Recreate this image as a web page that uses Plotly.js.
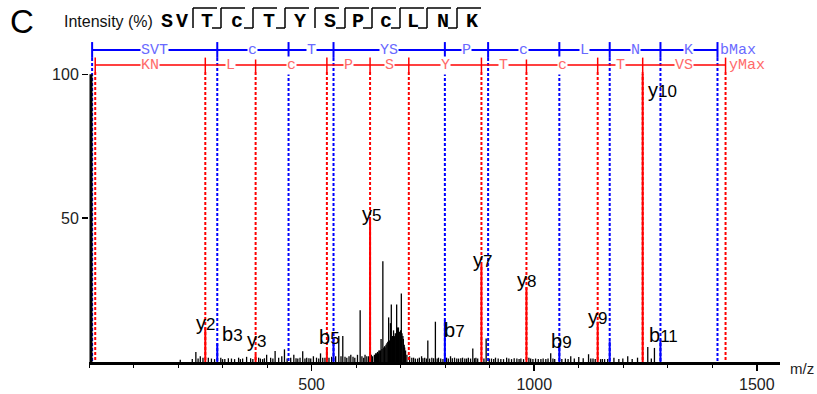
<!DOCTYPE html>
<html><head><meta charset="utf-8">
<script src="https://cdn.plot.ly/plotly-3.0.1.min.js"></script>
<style>html,body{margin:0;padding:0;background:#fff}#chart{width:817px;height:394px}</style>
</head><body><div id="chart"></div>
<script>
// ================= DATA =================
// peptide sequence shown in the header
const sequence = ['S','V','T','c','T','Y','S','P','c','L','N','K'];

// b-ion ladder (m/z): start, then b3,b4,b5,b7,b8,b9,b10,b11,bMax
const bStartMz = 7;
const bLadderMz = [288.1, 448.2, 549.2, 799.3, 896.4, 1056.4, 1169.5, 1283.5, 1411.6];
const bSegLabels = ['SVT','c','T','YS','P','c','L','N','K'];

// y-ion ladder (m/z): start, then y2..y10, yMax
const yStartMz = 14;
const yLadderMz = [261.2, 374.2, 534.3, 631.3, 718.3, 881.4, 982.5, 1142.5, 1243.6, 1429.7];
const ySegLabels = ['KN','L','c','P','S','Y','T','c','T','VS'];

// matched b-ion peaks
const bMatchMz    = [288.1, 549.2, 799.3, 1056.4, 1169.5, 1283.5];
const bMatchInt   = [6.5, 8.5, 14.5, 6.5, 7.2, 7.8];
const bMatchLabel = ['b3', 'b5', 'b7', 'b9', '', 'b11'];

// matched y-ion peaks
const yMatchMz    = [261.2, 374.2, 534.3, 631.3, 881.4, 982.5, 1142.5, 1243.6];
const yMatchInt   = [12, 2.5, 5, 50, 33.7, 26, 14, 100];
const yMatchLabel = ['y2', 'y3', '', 'y5', 'y7', 'y8', 'y9', 'y10'];

// unassigned peaks
const peakMz  = [205, 232, 240, 245, 250, 256, 268, 275, 282, 296, 300, 305, 313, 320, 327, 336, 340, 345, 354, 363, 368, 381, 385, 390, 394, 399, 408, 413, 418, 426, 433, 439, 445, 453, 460, 465, 469, 474, 480, 485, 489, 494, 498, 504, 511, 516, 520, 525, 530, 539, 545, 554, 561, 566, 570, 575, 579, 584, 588, 593, 597, 603, 609, 613, 617, 620, 624, 628, 634, 637, 641, 643, 644, 646, 648, 650, 651, 653, 655, 656, 658, 660, 662, 664, 665, 667, 669, 671, 673, 675, 677, 679, 680, 682, 683, 684, 686, 688, 690, 691, 692, 693, 694, 695, 697, 699, 700, 701.5, 703, 705, 706, 708, 709, 711, 714, 720, 725, 729, 733, 738, 742, 747, 750, 754, 758, 761, 765, 770, 774, 778, 782, 785, 790, 795, 803, 807, 812, 816, 821, 826, 830, 835, 839, 844, 848, 852, 857, 862, 866, 869, 873, 887, 892, 899, 904, 909, 913, 919, 925, 931, 938, 943, 949, 955, 961, 966, 970, 976, 988, 992, 997, 1003, 1009, 1015, 1020, 1026, 1031, 1037, 1042, 1046, 1062, 1070, 1076, 1082, 1090, 1100, 1110, 1122, 1127, 1132, 1137, 1149, 1153, 1158, 1165, 1179, 1190, 1199, 1210, 1220, 1232, 1255, 1263, 1270, 1292, 1301, 1312, 1323];
const peakInt = [0.8, 1, 3.5, 1.2, 2, 1.5, 1.5, 1.2, 1, 1.5, 1, 1, 1.3, 1.2, 1, 1.5, 1, 1.2, 1.8, 1.3, 1, 1.5, 1.2, 1, 1.3, 2.5, 1.5, 1.2, 3.8, 1.5, 2, 4.4, 1.2, 1.5, 2.5, 1.3, 1.2, 1.5, 3.7, 1.2, 1.5, 1.3, 1.2, 2, 1.5, 1.2, 3, 1.5, 1.5, 1.5, 1.8, 2, 9, 2, 9, 1.8, 1.5, 2, 2.5, 1.8, 1.5, 2.5, 18, 2, 1.5, 2.5, 2, 2, 2.5, 2, 2.5, 2.5, 3, 3, 3.5, 3, 4, 4, 4, 8, 4.5, 35, 5, 5.5, 5, 6, 6.5, 7, 15.5, 7.5, 13.5, 20, 8.5, 9, 8, 11, 9, 10, 9.5, 20, 10, 12, 11, 12, 10.5, 10, 11, 23.8, 10, 9, 8, 6, 5, 4, 2.5, 2, 1.5, 1.5, 1.2, 1.2, 1.5, 2, 1.3, 1.5, 1.2, 7.5, 1.2, 1.5, 1.3, 14, 1.2, 1.5, 1.2, 1, 1.5, 1.2, 2, 1.3, 1.5, 1.2, 1.2, 1.3, 1.5, 1.2, 1.2, 1.5, 1.2, 4.7, 1.3, 1.5, 1.2, 1.2, 8.2, 1.2, 1.2, 1, 1.5, 1.2, 1, 1, 1.5, 1.2, 1, 1.3, 1.2, 1, 1.2, 1, 1.5, 1.2, 1, 1.2, 1, 1, 1.2, 1, 1.2, 3, 1.2, 1, 1, 1.2, 1, 2, 1.2, 1.7, 1.3, 2.7, 1.2, 1.2, 1, 1, 1, 1, 1, 1.5, 1, 1.2, 2, 1, 1.5, 5.2, 1.2, 4.9];

const xTickVals = [500, 1000, 1500];
const yTickVals = [50, 100];

// ================= STYLE / LAYOUT CONSTANTS =================
const W = 817, H = 394;
const M = {l: 89, r: 37, t: 37, b: 32};
const PW = W - M.l - M.r, PH = H - M.t - M.b;
const X_MAX = 1552, Y_MAX = 112.96;
const BLUE = '#0000ff', RED = '#ff0000';
const BLUE_TXT = '#6a6aff', RED_TXT = '#ff6a6a';
const bLineY = 108.4, bTickTop = 111.2, bTickBot = 105.7;
const yLineY = 103.2, yTickTop = 105.8, yTickBot = 100.8;
const DASH = '3px,2px';
// label offsets (px) for peak labels: [dx, up]
const bLabelOff = [[15.5, 9], [-4, 1], [10, -10], [2, 2], [0, 0], [3, 5]];
const yLabelOff = [[0, 4], [1, 15], [0, 0], [1, 4], [1, 5], [0, 7], [0, 5], [20, -16]];

const px2paperX = p => (p - M.l) / PW;
const px2paperY = p => (H - M.b - p) / PH;

// ================= TRACES =================
function sticks(xs, y0s, y1s) {
  const x = [], y = [];
  xs.forEach((v, i) => { x.push(v, v, null); y.push(y0s[i], y1s[i], null); });
  return {x, y};
}
const traces = [];
{
  const s = sticks(peakMz, peakMz.map(() => 0), peakInt);
  traces.push({type: 'scatter', mode: 'lines', x: s.x, y: s.y, line: {color: '#000', width: 1.3}, hoverinfo: 'skip'});
}
const bAll = [bStartMz].concat(bLadderMz);
const yAll = [yStartMz].concat(yLadderMz);
{
  const s = sticks(bAll, bAll.map(() => bTickBot), bAll.map(() => 0));
  traces.push({type: 'scatter', mode: 'lines', x: s.x, y: s.y, line: {color: BLUE, width: 2, dash: DASH}, hoverinfo: 'skip'});
  const r = sticks(yAll, yAll.map(() => yTickBot), yAll.map(() => 0));
  traces.push({type: 'scatter', mode: 'lines', x: r.x, y: r.y, line: {color: RED, width: 2, dash: DASH}, hoverinfo: 'skip'});
}
function ladder(all, lineY, t0, t1) {
  const x = [all[0], all[all.length - 1], null], y = [lineY, lineY, null];
  all.forEach(v => { x.push(v, v, null); y.push(t0, t1, null); });
  return {x, y};
}
{
  const b = ladder(bAll, bLineY, bTickTop, bTickBot);
  traces.push({type: 'scatter', mode: 'lines', x: b.x, y: b.y, line: {color: BLUE, width: 2}, hoverinfo: 'skip'});
  const r = ladder(yAll, yLineY, yTickTop, yTickBot);
  traces.push({type: 'scatter', mode: 'lines', x: r.x, y: r.y, line: {color: RED, width: 1.5}, hoverinfo: 'skip'});
}
{
  const b = sticks(bMatchMz, bMatchMz.map(() => 0), bMatchInt);
  traces.push({type: 'scatter', mode: 'lines', x: b.x, y: b.y, line: {color: BLUE, width: 2}, hoverinfo: 'skip'});
  const r = sticks(yMatchMz, yMatchMz.map(() => 0), yMatchInt);
  traces.push({type: 'scatter', mode: 'lines', x: r.x, y: r.y, line: {color: RED, width: 2}, hoverinfo: 'skip'});
}

// ================= ANNOTATIONS =================
const ann = [];
const ladderFont = (c) => ({family: 'Liberation Mono, Courier New, monospace', size: 15, color: c});
bSegLabels.forEach((t, i) => {
  ann.push({x: (bAll[i] + bAll[i + 1]) / 2, y: bLineY, xref: 'x', yref: 'y', text: t, showarrow: false,
    xanchor: 'center', yanchor: 'middle', font: ladderFont(BLUE_TXT), bgcolor: '#fff', borderpad: 0, yshift: 0});
});
ann.push({x: bAll[bAll.length - 1], y: bLineY, xref: 'x', yref: 'y', text: 'bMax', showarrow: false,
  xanchor: 'left', yanchor: 'middle', xshift: 1, font: ladderFont(BLUE_TXT), yshift: 0});
ySegLabels.forEach((t, i) => {
  ann.push({x: (yAll[i] + yAll[i + 1]) / 2, y: yLineY, xref: 'x', yref: 'y', text: t, showarrow: false,
    xanchor: 'center', yanchor: 'middle', font: ladderFont(RED_TXT), bgcolor: '#fff', borderpad: 0});
});
ann.push({x: yAll[yAll.length - 1], y: yLineY, xref: 'x', yref: 'y', text: 'yMax', showarrow: false,
  xanchor: 'left', yanchor: 'middle', xshift: 1, font: ladderFont(RED_TXT)});

function ionText(lbl) {
  return lbl.charAt(0) + '<span style="font-size:17px">' + lbl.slice(1) + '</span>';
}
const ionFont = {family: 'Liberation Sans, Arial', size: 20, color: '#000'};
bMatchLabel.forEach((l, i) => {
  if (!l) return;
  ann.push({x: bMatchMz[i], y: bMatchInt[i], xref: 'x', yref: 'y', text: ionText(l), showarrow: false,
    xanchor: 'center', yanchor: 'middle', xshift: bLabelOff[i][0], yshift: bLabelOff[i][1], font: ionFont});
});
yMatchLabel.forEach((l, i) => {
  if (!l) return;
  ann.push({x: yMatchMz[i], y: yMatchInt[i], xref: 'x', yref: 'y', text: ionText(l), showarrow: false,
    xanchor: 'center', yanchor: 'middle', xshift: yLabelOff[i][0], yshift: yLabelOff[i][1], font: ionFont});
});

// header
ann.push({xref: 'paper', yref: 'paper', x: px2paperX(22), y: px2paperY(22), xanchor: 'center', yanchor: 'middle',
  text: 'C', showarrow: false, font: {family: 'Liberation Sans, Arial', size: 33, color: '#000'}});
ann.push({xref: 'paper', yref: 'paper', x: px2paperX(62), y: px2paperY(21), xanchor: 'left', yanchor: 'middle',
  text: 'Intensity (%)', showarrow: false, font: {family: 'Liberation Sans, Arial', size: 16, color: '#111'}});
const letterX = [167, 182, 207, 237, 269, 300, 330, 358, 386, 413, 443, 472];
sequence.forEach((c, i) => {
  ann.push({xref: 'paper', yref: 'paper', x: px2paperX(letterX[i]), y: px2paperY(21), xanchor: 'center', yanchor: 'middle',
    text: '<b>' + c + '</b>', showarrow: false,
    font: {family: 'Liberation Mono, Courier New, monospace', size: 20, color: '#000'}});
});
ann.push({xref: 'paper', yref: 'y', x: 1, y: 0, xanchor: 'left', yanchor: 'middle', xshift: 8, yshift: -6,
  text: 'm/z', showarrow: false, font: {family: 'Liberation Sans, Arial', size: 15, color: '#222'}});

// ================= SHAPES =================
const shapes = [];
shapes.push({type: 'line', xref: 'paper', yref: 'y', x0: 2 / PW, x1: 2 / PW, y0: 0, y1: 100, line: {color: '#000', width: 3}});
const bounds = [193, 221, 253, 285, 315, 345, 372, 400, 427, 457];
const hasBottom = [false, true, true, true, false, true, true, true, true, true];
const topY = 8, botY = 28;
bounds.forEach((bx, i) => {
  const L = {color: '#000', width: 1.5};
  shapes.push({type: 'line', xref: 'paper', yref: 'paper', x0: px2paperX(bx), x1: px2paperX(bx), y0: px2paperY(topY), y1: px2paperY(botY), line: L});
  shapes.push({type: 'line', xref: 'paper', yref: 'paper', x0: px2paperX(bx), x1: px2paperX(bx + 24), y0: px2paperY(topY), y1: px2paperY(topY), line: L});
  if (hasBottom[i]) shapes.push({type: 'line', xref: 'paper', yref: 'paper', x0: px2paperX(bx - 9), x1: px2paperX(bx), y0: px2paperY(botY), y1: px2paperY(botY), line: L});
});

const layout = {
  width: W, height: H, margin: M, showlegend: false,
  paper_bgcolor: '#fff', plot_bgcolor: '#fff',
  xaxis: {range: [0, X_MAX], showgrid: false, zeroline: false, showline: true, linecolor: '#000', linewidth: 3,
    tickmode: 'array', tickvals: xTickVals, ticks: 'outside', ticklen: 6, tickwidth: 1.5, tickcolor: '#000',
    tickfont: {family: 'Liberation Sans, Arial', size: 16, color: '#222'},
    minor: {tickmode: 'linear', tick0: 0, dtick: 100, ticks: 'outside', ticklen: 3, tickwidth: 1, tickcolor: '#000'}},
  yaxis: {range: [0, Y_MAX], showgrid: false, zeroline: false, showline: false,
    tickmode: 'array', tickvals: yTickVals, ticks: 'outside', ticklen: 6, tickwidth: 1.5, tickcolor: '#000',
    tickfont: {family: 'Liberation Sans, Arial', size: 16, color: '#222'}},
  annotations: ann, shapes: shapes
};
Plotly.newPlot('chart', traces, layout, {staticPlot: true, displayModeBar: false});
</script></body></html>
